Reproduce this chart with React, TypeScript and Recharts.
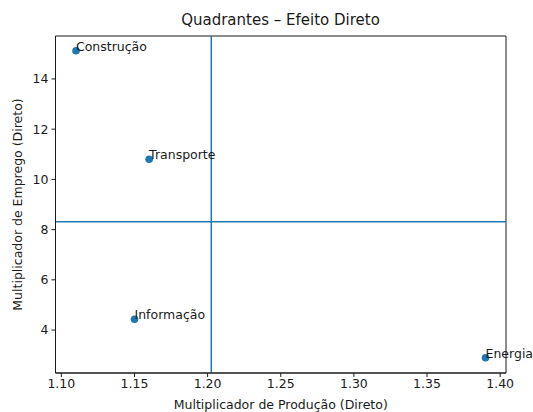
import React from "react";
import {
  ScatterChart,
  Scatter,
  XAxis,
  YAxis,
  ReferenceLine,
  ReferenceArea,
  LabelList,
} from "recharts";

const setores = ["Construção", "Transporte", "Informação", "Energia"];
const multProducao = [1.11, 1.16, 1.15, 1.39];
const multEmprego = [15.12, 10.8, 4.43, 2.9];

const xTicks = [1.1, 1.15, 1.2, 1.25, 1.3, 1.35, 1.4];
const yTicks = [4, 6, 8, 10, 12, 14];

const X_DOMAIN: [number, number] = [1.096, 1.404];
const Y_DOMAIN: [number, number] = [2.29, 15.71];

const FONT = "DejaVu Sans, sans-serif";
const FS = 12.5;
const INK = "#1a1a1a";
const BLUE = "#1f77b4";

const data = setores.map((nome, i) => ({
  nome,
  x: multProducao[i],
  y: multEmprego[i],
}));

const mediaX = multProducao.reduce((a, b) => a + b, 0) / multProducao.length;
const mediaY = multEmprego.reduce((a, b) => a + b, 0) / multEmprego.length;

const Dot = (props: any) => (
  <circle cx={props.cx} cy={props.cy} r={3.8} fill={BLUE} />
);

const NomeLabel = (props: any) => (
  <text
    x={props.x + props.width / 2}
    y={props.y + props.height / 2}
    fontFamily={FONT}
    fontSize={FS}
    fill={INK}
  >
    {props.value}
  </text>
);

const YLabel = (props: any) => {
  const { x, y, height } = props.viewBox;
  const cx = x + 12;
  const cy = y + height / 2;
  return (
    <text
      x={cx}
      y={cy}
      transform={`rotate(-90 ${cx} ${cy})`}
      textAnchor="middle"
      dominantBaseline="central"
      fontFamily={FONT}
      fontSize={FS}
      fill={INK}
    >
      Multiplicador de Emprego (Direto)
    </text>
  );
};

const XLabel = (props: any) => {
  const { x, y, width } = props.viewBox;
  return (
    <text
      x={x + width / 2}
      y={y + 36}
      textAnchor="middle"
      fontFamily={FONT}
      fontSize={FS}
      fill={INK}
    >
      Multiplicador de Produção (Direto)
    </text>
  );
};

export default function App() {
  return (
    <div style={{ position: "absolute", left: 0, top: 0, width: 533, height: 412, background: "#fff" }}>
      <div
        style={{
          position: "absolute",
          left: 55,
          width: 451,
          top: 11,
          textAlign: "center",
          fontFamily: FONT,
          fontSize: 15,
          lineHeight: "18px",
          color: INK,
        }}
      >
        Quadrantes – Efeito Direto
      </div>
      <ScatterChart
        width={533}
        height={412}
        margin={{ top: 36, right: 27, bottom: 0, left: 5.5 }}
      >
        <XAxis
          type="number"
          dataKey="x"
          domain={X_DOMAIN}
          ticks={xTicks}
          allowDataOverflow
          tickFormatter={(v: number) => v.toFixed(2)}
          height={39}
          tickSize={4}
          tickMargin={2}
          axisLine={{ stroke: INK, strokeWidth: 1 }}
          tickLine={{ stroke: INK }}
          tick={{ fontFamily: FONT, fontSize: FS, fill: INK }}
          label={<XLabel />}
        />
        <YAxis
          type="number"
          dataKey="y"
          domain={Y_DOMAIN}
          ticks={yTicks}
          allowDataOverflow
          width={50}
          tickSize={4}
          tickMargin={3}
          axisLine={{ stroke: INK, strokeWidth: 1 }}
          tickLine={{ stroke: INK }}
          tick={{ fontFamily: FONT, fontSize: FS, fill: INK }}
          label={<YLabel />}
        />
        <ReferenceArea
          x1={X_DOMAIN[0]}
          x2={X_DOMAIN[1]}
          y1={Y_DOMAIN[0]}
          y2={Y_DOMAIN[1]}
          fill="none"
          stroke={INK}
          strokeWidth={1}
          fillOpacity={0}
        />
        <ReferenceLine x={mediaX} stroke={BLUE} strokeWidth={1.5} />
        <ReferenceLine y={mediaY} stroke={BLUE} strokeWidth={1.5} />
        <Scatter data={data} shape={<Dot />} isAnimationActive={false}>
          <LabelList dataKey="nome" content={<NomeLabel />} />
        </Scatter>
      </ScatterChart>
    </div>
  );
}
